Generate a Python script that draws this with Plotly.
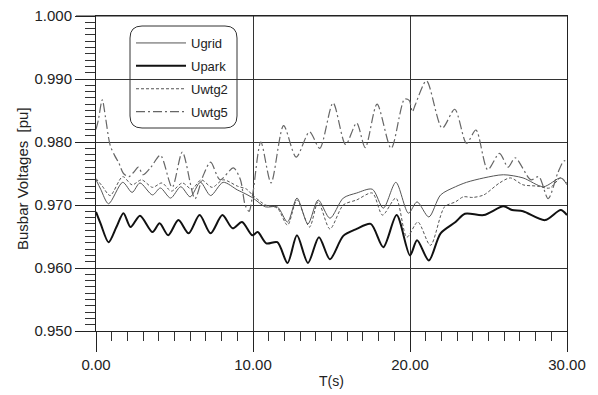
import plotly.graph_objects as go

# ---------------- data ----------------
t_park = [0.0, 0.3, 0.8, 1.3, 1.75, 2.2, 2.8, 3.6, 4.05, 4.6, 5.25, 5.9, 6.6, 7.3, 8.05,
          8.7, 9.3, 9.95, 10.3, 10.85, 11.55, 12.2, 12.8, 13.5, 14.2, 14.9, 15.75, 16.6,
          17.5, 18.3, 19.15, 20.0, 20.45, 21.2, 21.95, 22.9, 23.5, 24.7, 25.95, 26.5,
          27.2, 28.6, 29.6, 30.0]
u_park = [0.9689, 0.9670, 0.9641, 0.9665, 0.9687, 0.9665, 0.9683, 0.9657, 0.9671, 0.9652,
          0.9676, 0.9655, 0.9684, 0.9655, 0.9684, 0.9663, 0.9673, 0.9652, 0.9657, 0.9639,
          0.9641, 0.9608, 0.9652, 0.9608, 0.9649, 0.9614, 0.9651, 0.9662, 0.9670, 0.9633,
          0.9684, 0.9620, 0.9644, 0.9612, 0.9655, 0.9673, 0.9686, 0.9684, 0.9698, 0.9692,
          0.9690, 0.9676, 0.9692, 0.9684]

t_grid = [0.0, 0.3, 0.8, 1.7, 2.3, 2.8, 3.6, 4.1, 4.75, 5.4, 6.0, 6.65, 7.3, 8.1, 9.0,
          9.5, 10.0, 10.8, 11.55, 12.2, 12.8, 13.5, 14.15, 14.9, 15.75, 16.6, 17.6, 18.3,
          19.1, 19.9, 20.45, 21.2, 21.95, 22.9, 23.6, 24.7, 25.95, 27.2, 28.5, 29.6, 30.0]
u_grid = [0.9740, 0.9725, 0.9702, 0.9736, 0.9720, 0.9735, 0.9716, 0.9727, 0.9711, 0.9729,
          0.9713, 0.9736, 0.9715, 0.9736, 0.9724, 0.9718, 0.9711, 0.9697, 0.9697, 0.9673,
          0.9711, 0.9670, 0.9708, 0.9679, 0.9711, 0.9719, 0.9725, 0.9695, 0.9736, 0.9687,
          0.9705, 0.9681, 0.9716, 0.9729, 0.9736, 0.9743, 0.9748, 0.9743, 0.9729, 0.9743,
          0.9732]

t_wtg2 = [0.0, 0.4, 0.9, 1.7, 2.3, 2.9, 3.6, 4.2, 4.8, 5.5, 6.1, 6.7, 7.4, 8.1, 9.0,
          9.6, 10.0, 10.8, 11.55, 12.2, 12.8, 13.6, 14.15, 14.9, 15.75, 16.6, 17.6, 18.25,
          19.1, 19.8, 20.5, 21.3, 22.2, 22.9, 23.4, 24.0, 24.7, 25.7, 26.4, 27.2, 28.1,
          28.9, 29.6, 30.0]
u_wtg2 = [0.9742, 0.9730, 0.9715, 0.9745, 0.9732, 0.9740, 0.9728, 0.9735, 0.9722, 0.9735,
          0.9725, 0.9740, 0.9728, 0.9740, 0.9730, 0.9725, 0.9715, 0.9700, 0.9695, 0.9668,
          0.9708, 0.9665, 0.9705, 0.9662, 0.9700, 0.9708, 0.9719, 0.9684, 0.9711, 0.9649,
          0.9673, 0.9636, 0.9697, 0.9705, 0.9713, 0.9712, 0.9716, 0.9735, 0.9743, 0.9732,
          0.9730, 0.9727, 0.9743, 0.9735]

t_wtg5 = [0.0, 0.15, 0.4, 0.6, 0.9, 1.2, 1.45, 1.75, 2.1, 2.4, 2.7, 3.0, 3.5, 4.1, 4.85,
          5.5, 6.3, 6.8, 7.3, 7.9, 8.75, 9.2, 9.5, 9.75, 10.0, 10.5, 11.15, 11.95, 12.75,
          13.6, 14.25, 15.1, 15.9, 16.6, 17.15, 17.9, 18.8, 19.65, 19.95, 20.15, 20.35,
          21.05, 22.05, 22.85, 23.6, 24.2, 24.95, 25.7, 26.25, 26.7, 27.7, 28.2, 28.8,
          29.4, 29.8, 30.0]
u_wtg5 = [0.9820, 0.9835, 0.9867, 0.9840, 0.9795, 0.9778, 0.9767, 0.9750, 0.9745, 0.9752,
          0.9760, 0.9748, 0.9760, 0.9779, 0.9728, 0.9784, 0.9710, 0.9745, 0.9768, 0.9740,
          0.9759, 0.9740, 0.9700, 0.9690, 0.9720, 0.9800, 0.9735, 0.9826, 0.9776, 0.9816,
          0.9790, 0.9862, 0.9796, 0.9830, 0.9791, 0.9860, 0.9790, 0.9868, 0.9866, 0.9848,
          0.9860, 0.9897, 0.9822, 0.9852, 0.9798, 0.9819, 0.9756, 0.9782, 0.9760, 0.9775,
          0.9740, 0.9745, 0.9710, 0.9750, 0.9770, 0.9770]

x_ticks = [0, 10, 20, 30]
x_ticklabels = ["0.00", "10.00", "20.00", "30.00"]
y_ticks = [0.95, 0.96, 0.97, 0.98, 0.99, 1.00]
y_ticklabels = ["0.950", "0.960", "0.970", "0.980", "0.990", "1.000"]

FONT = "Liberation Sans, Arial, sans-serif"

# page body has an 8px default margin: figure is sized/offset to compensate
OFF = 8
PL, PR, PT, PB = 96.0, 567.0, 16.0, 331.0   # plot-area edges in the screenshot
W, H = PR - PL, PB - PT

fig = go.Figure()
fig.add_trace(go.Scatter(x=t_grid, y=u_grid, name="Ugrid", legendgroup="a", mode="lines",
                         line=dict(color="#555555", width=1, shape="spline", smoothing=0.8)))
fig.add_trace(go.Scatter(x=t_park, y=u_park, name="Upark", legendgroup="b", mode="lines",
                         line=dict(color="#111111", width=2, shape="spline", smoothing=0.8)))
fig.add_trace(go.Scatter(x=t_wtg2, y=u_wtg2, name="Uwtg2", legendgroup="c", mode="lines",
                         line=dict(color="#555555", width=1, dash="3px,2px", shape="spline", smoothing=0.8)))
fig.add_trace(go.Scatter(x=t_wtg5, y=u_wtg5, name="Uwtg5", legendgroup="d", mode="lines",
                         line=dict(color="#666666", width=1.2, dash="9px,3px,2px,3px", shape="spline", smoothing=0.8)))

# rounded legend frame (paper coords)
x0, x1 = (130 - PL) / W, (237 - PL) / W
y1, y0 = 1 - (26 - PT) / H, 1 - (128 - PT) / H
rx, ry = 12 / W, 12 / H
path = (f"M {x0+rx},{y1} L {x1-rx},{y1} Q {x1},{y1} {x1},{y1-ry} "
        f"L {x1},{y0+ry} Q {x1},{y0} {x1-rx},{y0} L {x0+rx},{y0} "
        f"Q {x0},{y0} {x0},{y0+ry} L {x0},{y1-ry} Q {x0},{y1} {x0+rx},{y1} Z")

fig.update_layout(
    width=598 - OFF, height=395 - OFF,
    margin=dict(l=PL - OFF, r=598 - PR, t=PT - OFF, b=395 - PB, autoexpand=False),
    paper_bgcolor="white", plot_bgcolor="white",
    font=dict(family=FONT, size=15, color="#222222"),
    showlegend=True,
    legend=dict(x=(131 - PL) / W, y=1 - (28 - PT) / H, xanchor="left", yanchor="top",
                bgcolor="rgba(0,0,0,0)", borderwidth=0, font=dict(size=13, family=FONT),
                itemwidth=50, tracegroupgap=3, traceorder="grouped"),
    shapes=[dict(type="path", path=path, xref="paper", yref="paper",
                 line=dict(color="#333333", width=1), fillcolor="rgba(0,0,0,0)"),
            dict(type="line", xref="paper", yref="paper", x0=-20 / W, x1=1, y0=1, y1=1,
                 line=dict(color="#222222", width=1))],
    annotations=[dict(text="Busbar Voltages  [pu]", xref="paper", yref="paper",
                      x=(22 - PL) / W, y=1 - (179 - PT) / H, textangle=-90, showarrow=False,
                      font=dict(size=15, family=FONT), xanchor="center", yanchor="middle")],
)

fig.update_xaxes(
    range=[0, 30], tickvals=x_ticks, ticktext=x_ticklabels, automargin=False,
    showline=True, linecolor="#222222", linewidth=1, mirror=True,
    ticks="outside", ticklen=20, tickcolor="#222222", tickwidth=1,
    showgrid=True, gridcolor="#333333", gridwidth=1, zeroline=False,
    minor=dict(dtick=1, ticks="outside", ticklen=9, tickcolor="#333333", showgrid=False),
    title=dict(text="T(s)", font=dict(size=14, family=FONT), standoff=4),
    tickfont=dict(size=15), ticklabeloverflow="allow",
)
fig.update_yaxes(
    range=[0.95, 1.0], tickvals=y_ticks, ticktext=y_ticklabels, automargin=False,
    showline=True, linecolor="#222222", linewidth=1, mirror=True,
    ticks="outside", ticklen=20, tickcolor="#222222", tickwidth=1,
    showgrid=True, gridcolor="#333333", gridwidth=1, zeroline=False,
    minor=dict(dtick=0.001, ticks="outside", ticklen=10, tickcolor="#333333", showgrid=False),
    tickfont=dict(size=15), ticklabeloverflow="allow",
)

fig.write_html("out.html")
